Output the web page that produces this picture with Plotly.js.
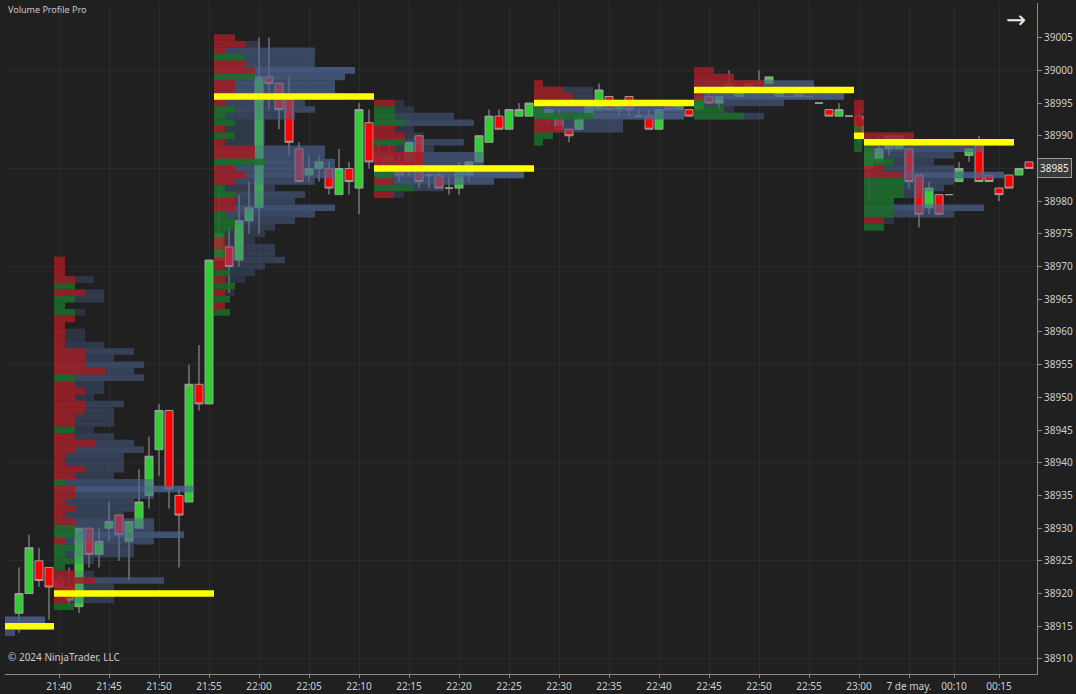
<!DOCTYPE html>
<html>
<head>
<meta charset="utf-8">
<script src="https://cdn.plot.ly/plotly-3.0.1.min.js"></script>
<style>
  html, body { margin: 0; padding: 0; background: #202020; }
  #chart { width: 1076px; height: 694px; }
</style>
</head>
<body>
<div id="chart"></div>
<script>
// 1-minute bars of YM, bar 0 = 21:36, bar 84 = 23:00, bar 85 = 00:01 (7 May)
const opens  = [38917,38920,38925,38924,38922,38921,38918,38930,38926,38930,38932,38928,38930,38935,38942,38948,38935,38934,38952,38949,
                38971,38973,38971,38977,38979,38999,38998,38996,38988,38984,38985,38985,38981,38985,38982,38992,38987,38986,38986,38986,
                38990,38984,38984,38982,38982,38984,38986,38989,38993,38991,38993,38993,38993,38993,38993,38991,38991,38993,38994,38996,
                38994,38996,38993,38993,38991,38995,38994,38994,38994,38996,38995,38997,38996,38997,38998,38998,38996,38996,38997,38996,
                38995,38994,38993,38993,38993,38985,38986,38988,38988,38988,38984,38979,38981,38981,38983,38987,38989,38984,38982,38984,
                38984,38986];
const highs  = [38924,38929,38927,38924,38923,38924,38930,38930,38930,38934,38932,38931,38939,38944,38949,38948,38936,38955,38958,38971,
                38982,38976,38981,38983,39005,39005,38998,38999,38989,38987,38987,38986,38988,38986,38995,38994,38989,38989,38987,38989,
                38990,38984,38985,38984,38986,38986,38990,38994,38994,38994,38995,38995,38995,38994,38994,38991,38994,38995,38998,38996,
                38995,38996,38994,38994,38994,38995,38995,38994,38996,38997,38996,39000,38997,38998,39000,38999,38997,38996,38997,38996,
                38995,38994,38995,38993,38994,38990,38990,38990,38990,38988,38984,38983,38981,38981,38986,38988,38990,38984,38982,38984,
                38985,38986];
const lows   = [38914,38920,38921,38916,38920,38918,38917,38924,38924,38928,38925,38922,38930,38933,38938,38933,38924,38934,38948,38949,
                38971,38966,38970,38975,38975,38994,38991,38987,38983,38983,38983,38981,38981,38981,38978,38985,38983,38983,38983,38984,
                38982,38982,38982,38981,38981,38983,38986,38989,38991,38991,38993,38993,38993,38992,38991,38989,38991,38993,38994,38994,
                38993,38993,38993,38991,38991,38994,38994,38993,38994,38995,38994,38997,38996,38997,38998,38998,38996,38996,38996,38996,
                38995,38993,38993,38993,38989,38980,38986,38987,38988,38982,38976,38978,38978,38981,38983,38986,38983,38983,38980,38982,
                38984,38985];
const closes = [38920,38927,38922,38921,38921,38919,38930,38926,38928,38931,38929,38931,38934,38941,38948,38936,38932,38952,38949,38971,
                38975,38970,38977,38979,38999,38998,38994,38989,38983,38985,38986,38982,38985,38983,38994,38986,38984,38987,38984,38989,
                38983,38984,38982,38982,38985,38986,38990,38993,38991,38994,38994,38995,38994,38994,38991,38990,38993,38995,38997,38994,
                38995,38994,38993,38991,38994,38994,38995,38993,38996,38995,38996,38998,38997,38998,38998,38999,38997,38996,38996,38996,
                38995,38993,38994,38993,38990,38988,38988,38990,38990,38983,38978,38982,38978,38981,38985,38988,38983,38983,38981,38982,
                38985,38985];

const tickIdx  = [4, 9, 14, 19, 24, 29, 34, 39, 44, 49, 54, 59, 64, 69, 74, 79, 84, 89, 93.5, 98];
const tickText = ['21:40','21:45','21:50','21:55','22:00','22:05','22:10','22:15','22:20','22:25',
                  '22:30','22:35','22:40','22:45','22:50','22:55','23:00','7 de may.','00:10','00:15'];
const priceTicks = [38910,38915,38920,38925,38930,38935,38940,38945,38950,38955,
                    38960,38965,38970,38975,38980,38985,38990,38995,39000,39005];

// volume profiles: first bar, bar count, top price row, POC price
const profStart = [-12, 4, 20, 36, 52, 68, 84, 85];
const profBars  = [16, 16, 16, 16, 16, 16, 1, 15];
const profTop   = [38916, 38971, 39005, 38995, 38998, 39000, 38995, 38990];
const pocPrice  = [38915, 38920, 38996, 38985, 38995, 38997, 38990, 38989];

// total volume per price row (top to bottom) and delta (+ buyers, - sellers)
const p0Vol   = [151, 160, 121];
const p0Delta = [-20, -20, 20];
const p1Vol   = [11,11,11,40,21,50,50,11,31,21,11,31,31,50,80,60,90,80,90,50,50,40,70,60,60,60,40,
                 60,80,90,70,70,70,60,100,140,100,80,80,70,100,100,130,100,80,80,40,11,40,110,60,60,60,20];
const p1Delta = [-11,-11,-11,-21,21,-31,21,11,21,-21,-11,-11,-11,-11,-31,-31,-31,-51,21,-21,-31,-21,-31,-31,-21,-21,21,
                 -21,-41,-21,-11,-11,-31,-21,11,-21,-21,-11,-21,-11,-21,21,21,-11,21,11,21,11,-21,-41,-21,-21,-13,20];
const p2Vol   = [21,45,101,101,101,141,131,121,121,130,91,101,81,51,51,51,51,111,111,121,121,121,
                 101,61,91,81,121,101,81,61,51,41,61,61,71,51,41,31,21,20,16,11,16];
const p2Delta = [-21,-31,-11,31,-31,-41,41,-21,-21,-21,-11,21,11,21,-11,21,-11,-41,-41,51,-21,-31,
                 -21,11,21,-21,-21,11,21,21,11,-11,-11,11,-11,-11,16,-11,21,-11,16,-11,16];
const p3Vol   = [30,40,80,100,40,50,90,60,110,110,150,150,120,70,30];
const p3Delta = [-21,21,21,31,-21,-31,31,-21,-50,-50,-30,20,-20,40,-20];
const p4Vol   = [9,59,59,150,150,150,89,89,19,9];
const p4Delta = [-9,-29,-39,-20,10,59,-19,-29,19,9];
const p5Vol   = [20,40,120,150,150,90,40,70];
const p5Delta = [-20,-40,-70,-30,-10,10,30,50];
const p6Vol   = [10,10,10,10,10,10,10,8];
const p6Delta = [-10,-10,-8,-10,8,-10,8,8];
const p7Vol   = [50,150,120,90,70,90,140,90,80,60,30,120,90,30,20];
const p7Delta = [-50,-30,10,10,30,-20,-40,40,40,40,30,30,30,-20,20];

const profVol   = [p0Vol, p1Vol, p2Vol, p3Vol, p4Vol, p5Vol, p6Vol, p7Vol];
const profDelta = [p0Delta, p1Delta, p2Delta, p3Delta, p4Delta, p5Delta, p6Delta, p7Delta];

const VOL_SCALE = 0.1; // bar widths per contract
const X_RANGE = [-1.4, 101.8];
const Y_RANGE = [38907.7, 39010.3];
const FONT = 'Noto Sans, sans-serif';

function blueShade(v) {
  const a = 0.2 + 0.6 * Math.pow(Math.min(v / 150, 1), 1.2);
  return `rgba(78, 102, 148, ${a.toFixed(2)})`;
}

function buildProfiles() {
  const vol = { y: [], x: [], base: [], color: [] };
  const delta = { y: [], x: [], base: [], color: [] };
  const poc = { y: [], x: [], base: [] };
  profStart.forEach((start, k) => {
    const left = start - 0.5;
    profVol[k].forEach((v, j) => {
      const price = profTop[k] - j;
      const d = profDelta[k][j];
      vol.y.push(price); vol.x.push(v * VOL_SCALE); vol.base.push(left); vol.color.push(blueShade(v));
      delta.y.push(price); delta.x.push(Math.abs(d) * VOL_SCALE); delta.base.push(left);
      delta.color.push(d >= 0 ? 'rgba(25, 110, 35, 0.8)' : 'rgba(168, 25, 30, 0.8)');
    });
    poc.y.push(pocPrice[k]); poc.x.push(profBars[k]); poc.base.push(left);
  });
  return { vol, delta, poc };
}

function hbar(rows, color) {
  return {
    type: 'bar', orientation: 'h',
    y: rows.y, x: rows.x, base: rows.base, width: 1,
    marker: { color: color || rows.color, line: { width: 0 } },
    xaxis: 'x2', yaxis: 'y2', hoverinfo: 'skip',
  };
}

function drawChart() {
  const bars = opens.map((_, i) => i);
  const prof = buildProfiles();
  const last = closes[closes.length - 1];

  const candles = {
    type: 'candlestick', x: bars, open: opens, high: highs, low: lows, close: closes,
    increasing: { fillcolor: '#32cd32', line: { color: '#a0a0a0', width: 1 } },
    decreasing: { fillcolor: '#ff0000', line: { color: '#a0a0a0', width: 1 } },
    whiskerwidth: 0, hoverinfo: 'skip',
  };

  const tickFont = { family: FONT, size: 10, color: '#cfcfcf' };

  const layout = {
    width: 1076, height: 694,
    margin: { l: 5, r: 39, t: 3, b: 20 },
    paper_bgcolor: '#202020', plot_bgcolor: '#202020',
    showlegend: false, barmode: 'overlay', boxgap: 0.2, boxgroupgap: 0,
    xaxis: {
      range: X_RANGE, tickvals: tickIdx, ticktext: tickText, tickfont: tickFont,
      showgrid: true, gridcolor: '#2b2b2b', zeroline: false,
      ticks: 'outside', ticklen: 3, tickcolor: '#8a8a8a',
      showline: true, linecolor: '#8a8a8a', rangeslider: { visible: false }, fixedrange: true,
    },
    yaxis: {
      range: Y_RANGE, side: 'right', tickvals: priceTicks,
      ticktext: priceTicks.map((p) => (p === last ? '' : String(p))), tickfont: tickFont,
      showgrid: false, zeroline: false, ticks: 'outside', ticklen: 4, tickcolor: '#8a8a8a',
      showline: true, linecolor: '#8a8a8a', fixedrange: true,
    },
    xaxis2: { overlaying: 'x', range: X_RANGE, visible: false, fixedrange: true },
    yaxis2: {
      overlaying: 'y', range: Y_RANGE, tick0: 38910, dtick: 15, showgrid: true, gridcolor: '#2b2b2b',
      showticklabels: false, ticks: '', zeroline: false, showline: false, fixedrange: true,
    },
    annotations: [
      { text: 'Volume Profile Pro', xref: 'paper', yref: 'paper', x: 0.001, y: 0.99, xanchor: 'left', yanchor: 'middle',
        showarrow: false, font: { family: FONT, size: 9, color: '#c8c8c8' } },
      { text: '© 2024 NinjaTrader, LLC', xref: 'paper', yref: 'paper', x: 0.001, y: 0.025, xanchor: 'left', yanchor: 'middle',
        showarrow: false, font: { family: FONT, size: 10, color: '#c8c8c8' } },
      { text: '→', xref: 'paper', yref: 'paper', x: 0.98, y: 0.975, xanchor: 'center', yanchor: 'middle',
        showarrow: false, font: { family: 'DejaVu Sans, sans-serif', size: 24, color: '#e6e6e6' } },
      { text: String(last), xref: 'paper', yref: 'y', x: 1, y: last, xanchor: 'left', yanchor: 'middle',
        showarrow: false, bgcolor: '#3a3a3a', bordercolor: '#9a9a9a', borderwidth: 1, borderpad: 2,
        font: { family: FONT, size: 10, color: '#eeeeee' } },
    ],
  };

  const traces = [
    candles,
    hbar(prof.vol),
    hbar(prof.delta),
    hbar(prof.poc, '#ffff00'),
  ];

  Plotly.newPlot('chart', traces, layout, { staticPlot: true, displayModeBar: false });
}

window.addEventListener('DOMContentLoaded', drawChart);
</script>
</body>
</html>
